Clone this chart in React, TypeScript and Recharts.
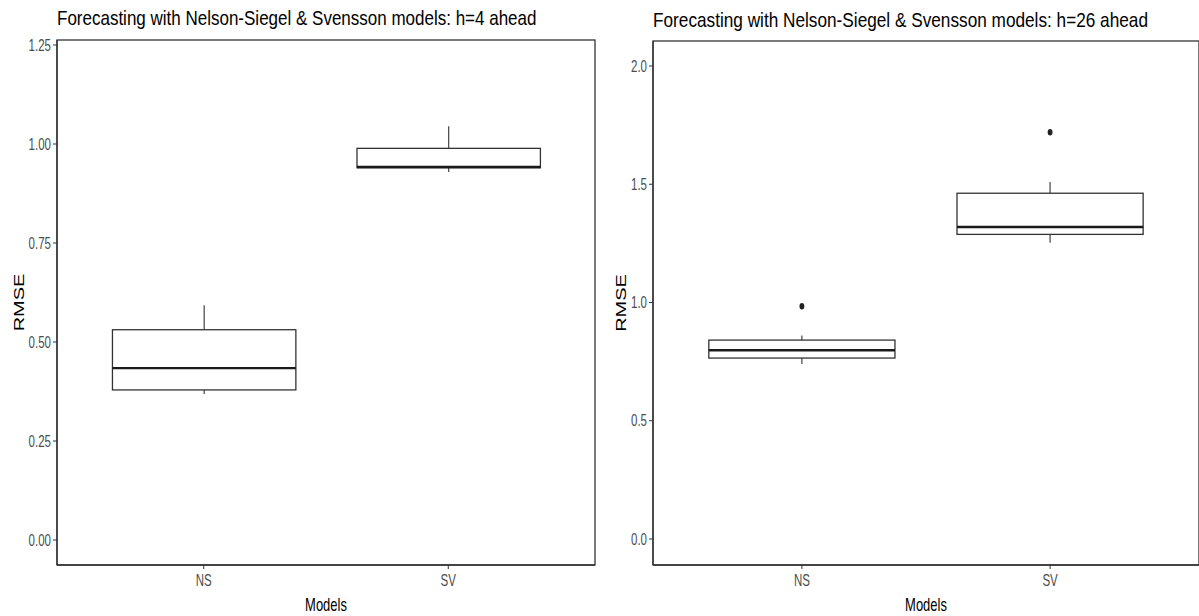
import { Bar, ComposedChart, Scatter, XAxis, YAxis } from "recharts"

const models = ["NS", "SV"]

// h=4 ahead
const h4Min = [0.369, 0.929]
const h4Q1 = [0.379, 0.94]
const h4Median = [0.434, 0.942]
const h4Q3 = [0.531, 0.989]
const h4Max = [0.593, 1.045]
const h4Outlier: (number | null)[] = [null, null]
const h4Ticks = [0, 0.25, 0.5, 0.75, 1, 1.25]

// h=26 ahead
const h26Min = [0.74, 1.253]
const h26Q1 = [0.765, 1.288]
const h26Median = [0.798, 1.319]
const h26Q3 = [0.841, 1.462]
const h26Max = [0.86, 1.51]
const h26Outlier: (number | null)[] = [0.984, 1.72]
const h26Ticks = [0, 0.5, 1, 1.5, 2]

const FONT = "'Liberation Sans', Arial, sans-serif"
const LINE = "#333333"
const SQUASH = 0.72

type Row = {
  model: string
  whisker: [number, number]
  q1: number
  median: number
  q3: number
  outlier: number | null
}

function buildRows(
  lo: number[],
  q1: number[],
  med: number[],
  q3: number[],
  hi: number[],
  out: (number | null)[],
): Row[] {
  return models.map((m, i) => ({
    model: m,
    whisker: [lo[i], hi[i]],
    q1: q1[i],
    median: med[i],
    q3: q3[i],
    outlier: out[i],
  }))
}

function BoxShape(props: any) {
  const { x, y, width, height, payload } = props
  const [lo, hi] = payload.whisker as [number, number]
  const top = Math.min(y, y + height)
  const h = Math.abs(height)
  const k = h / (hi - lo)
  const py = (v: number) => top + (hi - v) * k
  const cx = x + width / 2
  return (
    <g>
      <line x1={cx} x2={cx} y1={py(hi)} y2={py(payload.q3)} stroke={LINE} strokeWidth={1.1} />
      <line x1={cx} x2={cx} y1={py(payload.q1)} y2={py(lo)} stroke={LINE} strokeWidth={1.1} />
      <rect
        x={x}
        y={py(payload.q3)}
        width={width}
        height={py(payload.q1) - py(payload.q3)}
        fill="#fff"
        stroke={LINE}
        strokeWidth={1.3}
      />
      <line
        x1={x}
        x2={x + width}
        y1={py(payload.median)}
        y2={py(payload.median)}
        stroke="#1a1a1a"
        strokeWidth={2.4}
      />
    </g>
  )
}

function OutlierShape(props: any) {
  const { cx, cy, payload } = props
  if (payload?.outlier == null || !Number.isFinite(cy)) return <g />
  return <ellipse cx={cx} cy={cy} rx={2.4} ry={3.3} fill="#222" />
}

function SquashTick(props: any) {
  const { x, y, payload, textAnchor, fmt, vertical } = props
  const label = fmt ? fmt(payload.value) : String(payload.value)
  return (
    <g transform={`translate(${x},${y}) scale(${SQUASH},1)`}>
      <text
        x={0}
        y={0}
        dy={vertical ? "0.355em" : "0.71em"}
        textAnchor={textAnchor}
        fontSize={16}
        fontFamily={FONT}
        fill="#4d4d4d"
      >
        {label}
      </text>
    </g>
  )
}

interface PanelProps {
  title: string
  titleScale: number
  titleBaseline: number
  rows: Row[]
  width: number
  top: number
  yWidth: number
  rightMargin: number
  domain: [number, number]
  ticks: number[]
  digits: number
  labelX: number
}

function BoxPanel(p: PanelProps) {
  const plotW = p.width - p.yWidth - p.rightMargin
  const pad = plotW / 22
  const boxW = (plotW * 0.75) / 2.2
  const plotBottom = 616 - 51
  const midX = p.yWidth + plotW / 2
  const midY = (p.top + plotBottom) / 2
  const hasOutliers = p.rows.some((r) => r.outlier != null)

  return (
    <div style={{ position: "relative", width: p.width, height: 616 }}>
      <ComposedChart
        width={p.width}
        height={616}
        data={p.rows}
        margin={{ top: p.top, right: p.rightMargin, bottom: 0, left: 0 }}
      >
        <XAxis
          dataKey="model"
          type="category"
          interval={0}
          padding={{ left: pad, right: pad }}
          height={51}
          tickSize={4}
          tickMargin={6}
          axisLine={{ stroke: LINE, strokeWidth: 1.3 }}
          tickLine={{ stroke: LINE }}
          tick={<SquashTick />}
        />
        <YAxis
          type="number"
          domain={p.domain}
          ticks={p.ticks}
          allowDataOverflow
          width={p.yWidth}
          tickSize={4}
          tickMargin={2}
          axisLine={{ stroke: LINE, strokeWidth: 1.3 }}
          tickLine={{ stroke: LINE }}
          tick={<SquashTick vertical fmt={(v: number) => v.toFixed(p.digits)} />}
        />
        <Bar dataKey="whisker" barSize={boxW} shape={BoxShape} isAnimationActive={false} />
        {hasOutliers && (
          <Scatter dataKey="outlier" shape={OutlierShape} isAnimationActive={false} />
        )}
      </ComposedChart>
      <svg
        width={p.width}
        height={616}
        style={{ position: "absolute", left: 0, top: 0, pointerEvents: "none" }}
      >
        {/* panel border */}
        <rect
          x={p.yWidth}
          y={p.top}
          width={plotW}
          height={plotBottom - p.top}
          fill="none"
          stroke={LINE}
          strokeWidth={1.3}
        />
        <g transform={`translate(${p.yWidth},${p.titleBaseline}) scale(${p.titleScale},1)`}>
          <text x={0} y={0} fontSize={21} fontFamily={FONT} fill="#000">
            {p.title}
          </text>
        </g>
        <g transform={`translate(${midX},611) scale(${SQUASH},1)`}>
          <text textAnchor="middle" fontSize={18} fontFamily={FONT} fill="#000">
            Models
          </text>
        </g>
        <g transform={`translate(${p.labelX},${midY}) scale(${SQUASH},1) rotate(-90)`}>
          <text textAnchor="middle" fontSize={20} fontFamily={FONT} fill="#000">
            RMSE
          </text>
        </g>
      </svg>
    </div>
  )
}

export default function App() {
  const rows4 = buildRows(h4Min, h4Q1, h4Median, h4Q3, h4Max, h4Outlier)
  const rows26 = buildRows(h26Min, h26Q1, h26Median, h26Q3, h26Max, h26Outlier)
  return (
    <div
      style={{
        position: "absolute",
        left: 0,
        top: 0,
        width: 1199,
        height: 616,
        background: "#fff",
        overflow: "hidden",
      }}
    >
      <div style={{ position: "absolute", left: 0, top: 0 }}>
        <BoxPanel
          title="Forecasting with Nelson-Siegel & Svensson models: h=4 ahead"
          titleScale={0.81}
          titleBaseline={25}
          rows={rows4}
          width={600}
          top={40}
          yWidth={57}
          rightMargin={5}
          domain={[-0.0631, 1.2626]}
          ticks={h4Ticks}
          digits={2}
          labelX={24}
        />
      </div>
      <div style={{ position: "absolute", left: 600, top: 0 }}>
        <BoxPanel
          title="Forecasting with Nelson-Siegel & Svensson models: h=26 ahead"
          titleScale={0.82}
          titleBaseline={27}
          rows={rows26}
          width={599}
          top={41}
          yWidth={53}
          rightMargin={0}
          domain={[-0.11, 2.1057]}
          ticks={h26Ticks}
          digits={1}
          labelX={26}
        />
      </div>
    </div>
  )
}
